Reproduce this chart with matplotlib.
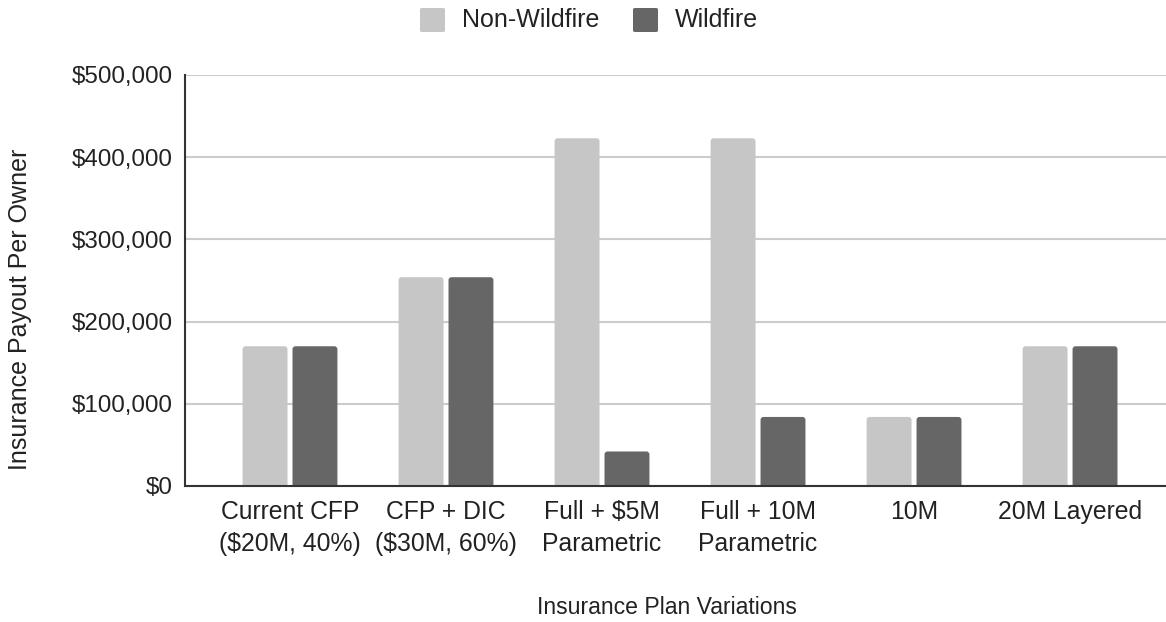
import matplotlib
matplotlib.use("Agg")
import matplotlib.pyplot as plt
from matplotlib.patches import FancyBboxPatch
from matplotlib.ticker import FuncFormatter, MultipleLocator

plt.rcParams['font.family'] = ['Liberation Sans', 'DejaVu Sans']

categories = ["Current CFP\n($20M, 40%)", "CFP + DIC\n($30M, 60%)", "Full + $5M\nParametric",
              "Full + 10M\nParametric", "10M", "20M Layered"]
non_wildfire = [170000, 254000, 423000, 423000, 84000, 170000]
wildfire = [170000, 254000, 42000, 84000, 84000, 170000]
series_names = ["Non-Wildfire", "Wildfire"]
colors = ["#c6c6c6", "#666666"]
text_color = "#222222"

W, H = 1166, 622
fig = plt.figure(figsize=(W / 100, H / 100), dpi=100)
ax = fig.add_axes([185 / W, (H - 486) / H, 1 - 185 / W, (486 - 75) / H])

x = list(range(len(categories)))
bw = 0.288
off = 0.16
ymax = 500000
ax.set_ylim(0, ymax)
ax.set_xlim(-0.673, 5.615)

# rounded-top bars: corner radius ~3 px in both axis directions
rx = 3 / 156
ry = 3 / (411 / ymax)
for vals, shift, col in [(non_wildfire, -off, colors[0]), (wildfire, off, colors[1])]:
    bars = ax.bar([i + shift for i in x], vals, width=bw, color=col, alpha=0)
    for b in bars:
        x0, w, h = b.get_x(), b.get_width(), b.get_height()
        p = FancyBboxPatch((x0 + rx, -ry * 2), w - 2 * rx, h + ry * 2 - ry,
                           boxstyle=f"round,pad={rx},rounding_size={rx}",
                           mutation_aspect=ry / rx,
                           facecolor=col, edgecolor="none", zorder=3, clip_on=True)
        ax.add_patch(p)

ax.yaxis.set_major_locator(MultipleLocator(100000))
ax.yaxis.set_major_formatter(FuncFormatter(lambda v, _: f"${v:,.0f}"))
ax.grid(axis="y", color="#cccccc", linewidth=1.5, zorder=0)
ax.set_axisbelow(True)

ax.set_xticks(x)
ax.set_xticklabels(categories, fontsize=17.8, color=text_color, linespacing=1.42)
ax.tick_params(axis="x", length=0, pad=10)
ax.tick_params(axis="y", length=0, pad=9, labelsize=17.4, labelcolor=text_color)

for s in ["top", "right"]:
    ax.spines[s].set_visible(False)
for s in ["left", "bottom"]:
    ax.spines[s].set_color("#333333")
    ax.spines[s].set_linewidth(1.5)
    ax.spines[s].set_zorder(4)

fig.text(20 / W, 1 - 309 / H, "Insurance Payout Per Owner", rotation=90, fontsize=18,
         color=text_color, ha="center", va="center")
fig.text(667 / W, 1 - 607 / H, "Insurance Plan Variations", fontsize=16.6,
         color=text_color, ha="center", va="center")

# legend: swatches and labels along the top
leg_items = [(420, 462, series_names[0], colors[0]), (633, 675, series_names[1], colors[1])]
for sx, tx, label, col in leg_items:
    fig.add_artist(FancyBboxPatch((sx / W, 1 - 32 / H), 25 / W, 24 / H,
                                  boxstyle="round,pad=0,rounding_size=0.002",
                                  transform=fig.transFigure, facecolor=col, edgecolor="none"))
    fig.text(tx / W, 1 - 20 / H, label, fontsize=18, color=text_color, ha="left", va="center")

fig.savefig("out.png", dpi=100, facecolor="white")
